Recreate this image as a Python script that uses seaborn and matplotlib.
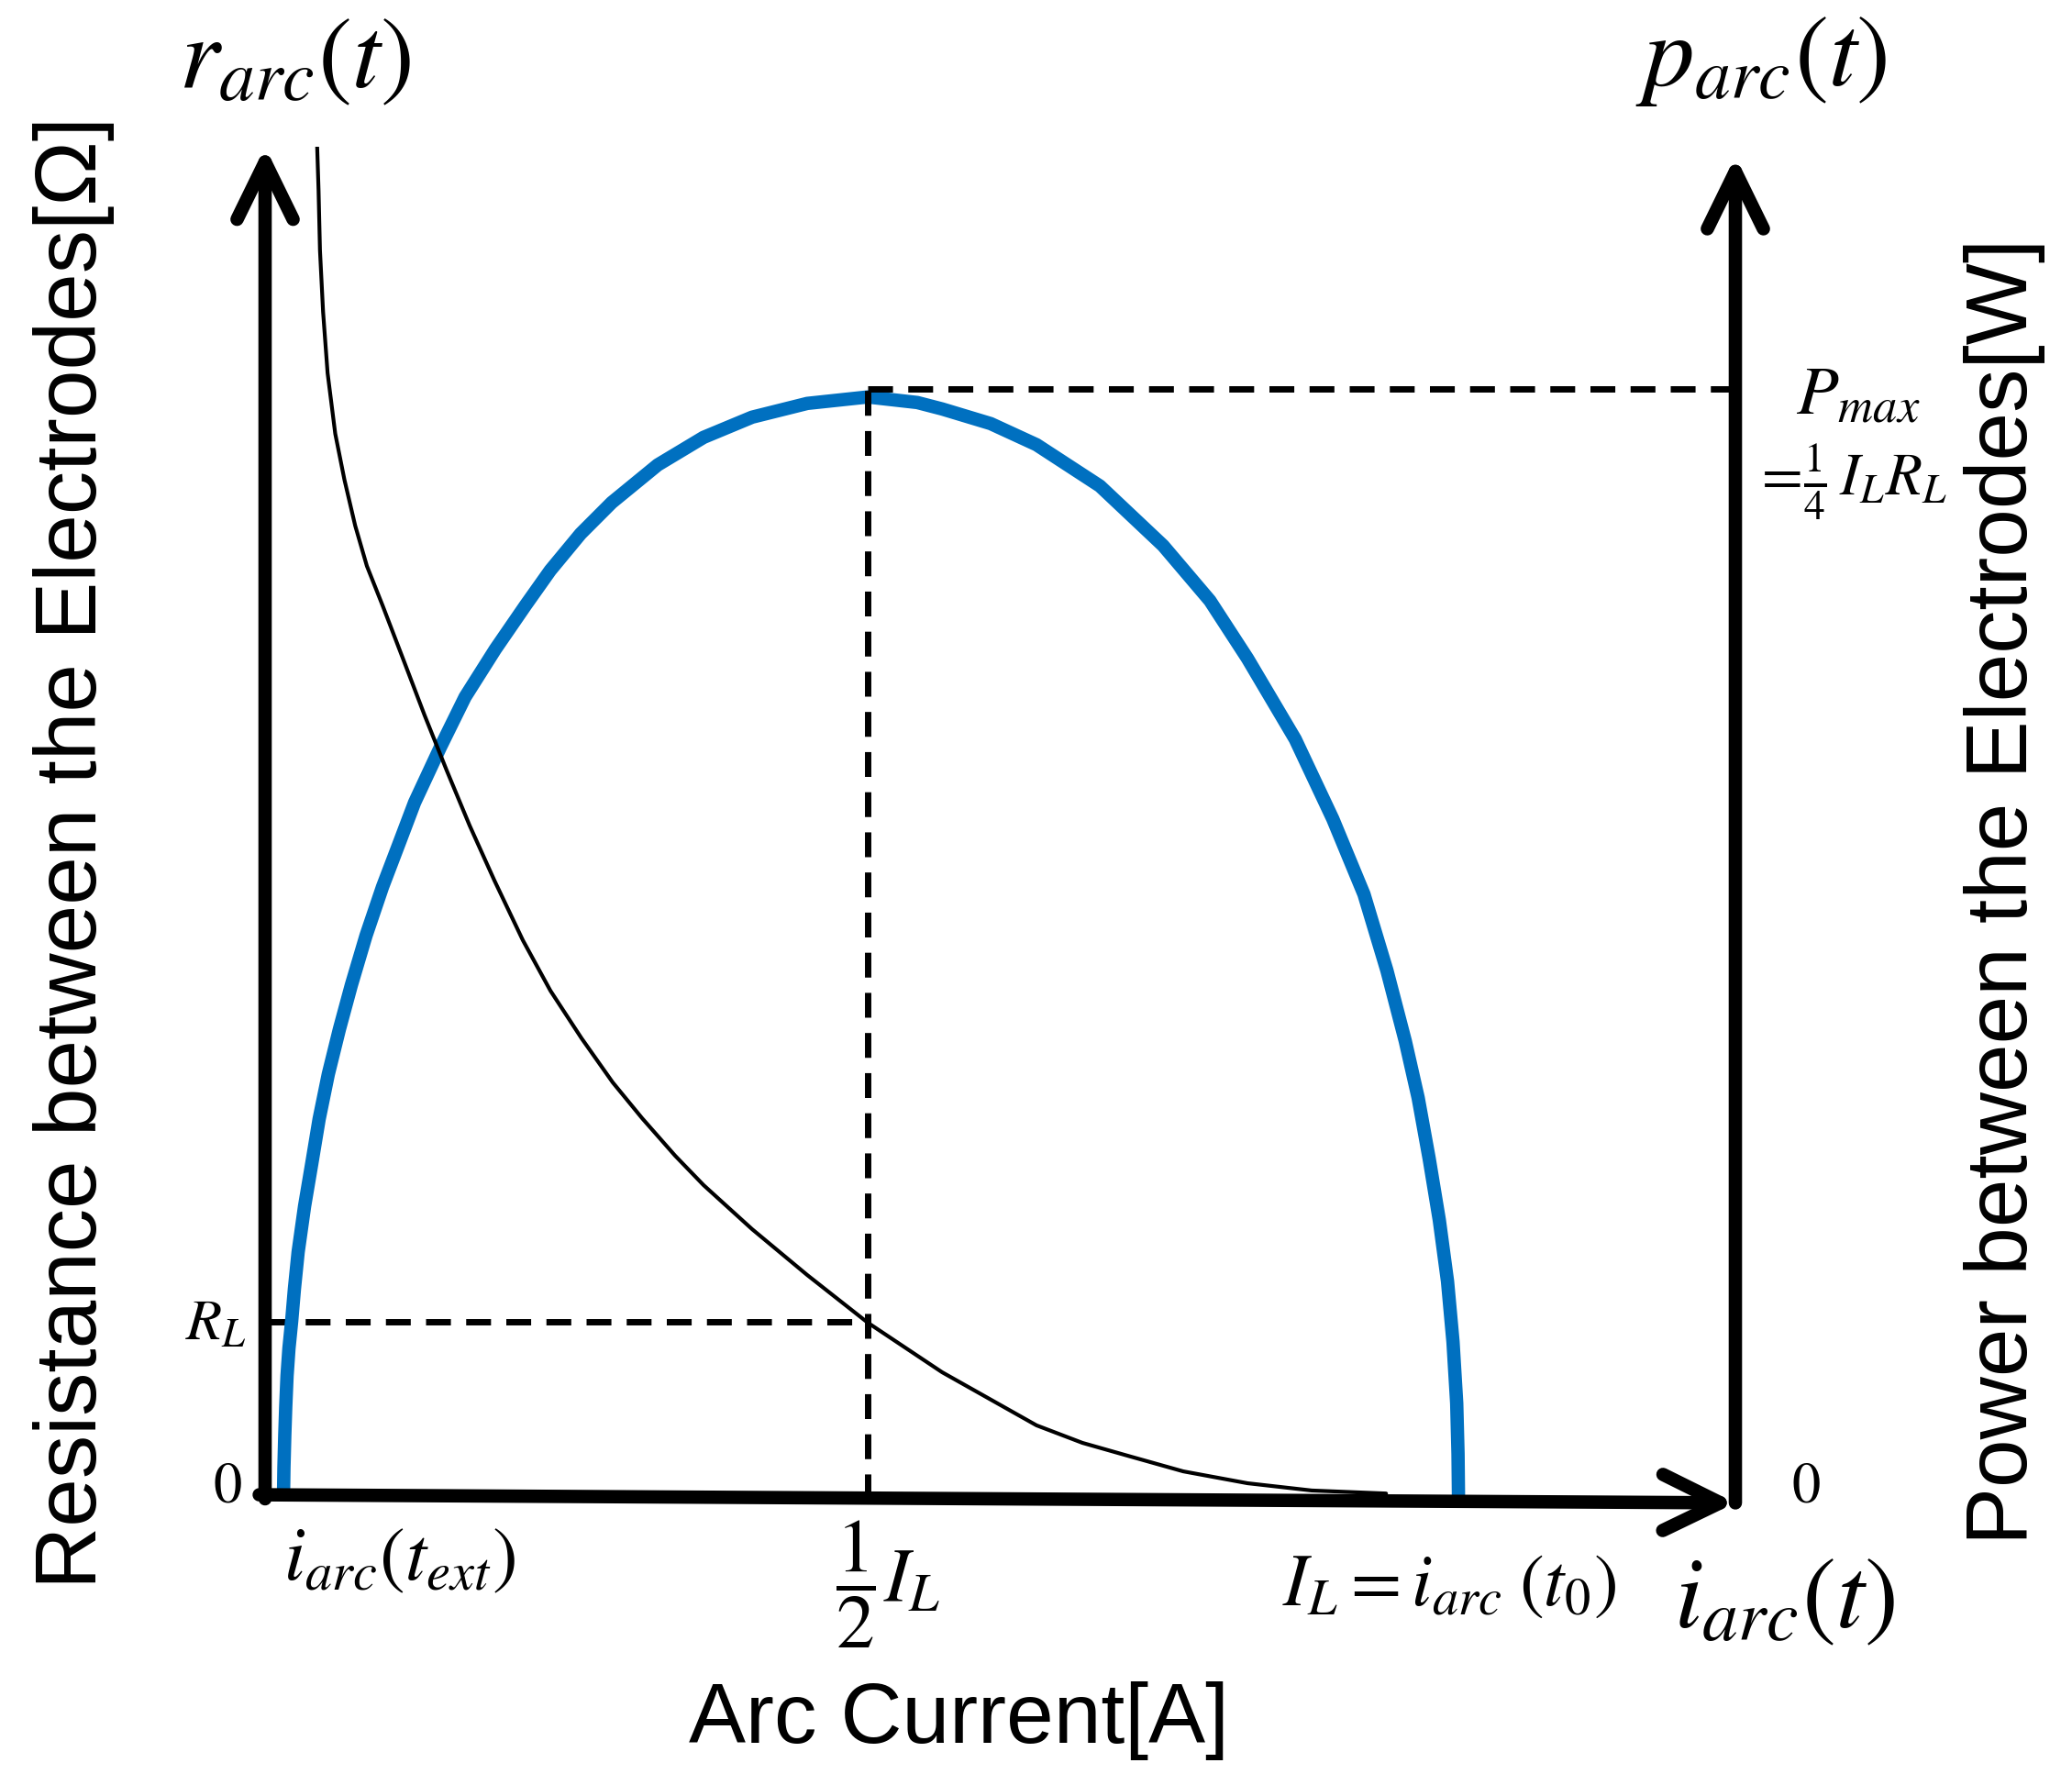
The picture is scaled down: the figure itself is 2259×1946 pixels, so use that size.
import matplotlib
matplotlib.use("Agg")
import matplotlib.pyplot as plt
import seaborn as sns
import pandas as pd

# ---------------- data (I_L = 1, R_L = 1, P_max = 1) ----------------
# blue curve: power between the electrodes vs arc current
power_current = [0.0154, 0.0158, 0.0165, 0.0173, 0.0184, 0.0200, 0.0223, 0.0246, 0.0277,
                 0.0331, 0.0392, 0.0453, 0.0530, 0.0623, 0.0723, 0.0846, 0.0984, 0.1122,
                 0.1253, 0.1468, 0.1676, 0.1929, 0.2183, 0.2390, 0.2644, 0.2905, 0.3290,
                 0.3674, 0.4081, 0.4543, 0.5050, 0.5465, 0.5673, 0.6080, 0.6464, 0.6995,
                 0.7525, 0.7917, 0.8232, 0.8632, 0.8947, 0.9208, 0.9400, 0.9554, 0.9662,
                 0.9754, 0.9839, 0.9908, 0.9954, 0.9985, 0.9996, 1.0000]
power_values = [0.0, 0.0281, 0.0570, 0.0826, 0.1107, 0.1355, 0.1603, 0.1893, 0.2223,
                0.2636, 0.3025, 0.3421, 0.3826, 0.4231, 0.4628, 0.5074, 0.5512, 0.5901,
                0.6273, 0.6769, 0.7223, 0.7653, 0.8050, 0.8364, 0.8694, 0.8975, 0.9314,
                0.9562, 0.9744, 0.9868, 0.9926, 0.9876, 0.9818, 0.9686, 0.9496, 0.9124,
                0.8587, 0.8091, 0.7570, 0.6843, 0.6124, 0.5446, 0.4760, 0.4124, 0.3612,
                0.3066, 0.2512, 0.1959, 0.1413, 0.0860, 0.0405, 0.0]
# black curve: resistance between the electrodes vs arc current
res_current = [0.0434, 0.0448, 0.0460, 0.0486, 0.0524, 0.0588, 0.0665, 0.0755, 0.0853,
               0.0984, 0.1161, 0.1337, 0.1522, 0.1714, 0.1922, 0.2160, 0.2391, 0.2652,
               0.2913, 0.3159, 0.3436, 0.3674, 0.4081, 0.4543, 0.5050, 0.5673, 0.6464,
               0.6849, 0.7256, 0.7694, 0.8232, 0.8770, 0.9393]
res_values = [7.689, 7.394, 7.052, 6.705, 6.358, 6.016, 5.756, 5.497, 5.269,
              5.047, 4.736, 4.425, 4.114, 3.803, 3.492, 3.155, 2.870, 2.601,
              2.352, 2.150, 1.938, 1.772, 1.523, 1.264, 0.995, 0.715, 0.415,
              0.316, 0.238, 0.155, 0.088, 0.047, 0.030]

I_EXT = 0.0154       # i_arc(t_ext)
I_HALF = 0.505       # 1/2 I_L
I_L = 1.0
R_L = 1.0
P_MAX = 1.0

# axis extents (data units)
X_MAX = 1.232
R_MAX = 7.637
P_TOP = 1.218

# ---------------- style ----------------
sns.set_theme(style="white")
plt.rcParams['font.family'] = ['Liberation Sans', 'DejaVu Sans']
plt.rcParams['mathtext.fontset'] = 'stix'
plt.rcParams['text.color'] = 'black'

W, H = 2259, 1946
fig = plt.figure(figsize=(W / 100, H / 100), dpi=100)
fig.patch.set_facecolor('white')

L, R, B, T = 289, 1892, 1634, 160
ax = fig.add_axes([L / W, 1 - B / H, (R - L) / W, (B - T) / H])
ax2 = ax.twinx()
for a in (ax, ax2):
    a.set_facecolor('none')
    for s in a.spines.values():
        s.set_visible(False)
    a.set_xticks([])
    a.set_yticks([])
    a.grid(False)
ax.set_xlim(0, X_MAX)
ax.set_ylim(0, R_MAX)
ax2.set_ylim(0, P_TOP)

BLUE = '#0070C0'
dash_kw = dict(color='black', lw=5, dashes=(3.9, 2.4))

# curves
dfp = pd.DataFrame({'i': power_current, 'p': power_values})
dfr = pd.DataFrame({'i': res_current, 'r': res_values})
sns.lineplot(data=dfp, x='i', y='p', ax=ax2, color=BLUE, lw=10.5, estimator=None,
             sort=False, solid_capstyle='butt', solid_joinstyle='round', zorder=3)
sns.lineplot(data=dfr, x='i', y='r', ax=ax, color='black', lw=3.0,
             estimator=None, sort=False, solid_joinstyle='round', zorder=5)

# dashed guide lines
ax2.plot([0, I_HALF], [R_L * P_TOP / R_MAX] * 2, zorder=2, **dash_kw)
ax2.plot([I_HALF, I_HALF], [0, P_MAX], zorder=4, **dash_kw)
ax2.plot([I_HALF, X_MAX], [P_MAX, P_MAX], zorder=4, **dash_kw)

ax2.set_zorder(ax.get_zorder() - 1)
ax.patch.set_visible(False)
for a in (ax, ax2):
    a.set_xlabel('')
    a.set_ylabel('')

# axis arrows
arrow_kw = dict(arrowstyle='->,head_length=0.45,head_width=0.22', lw=10.5, color='black',
                mutation_scale=100, shrinkA=0, shrinkB=0, capstyle='round', joinstyle='round')
ax.annotate('', xy=(0, 1.0), xytext=(0, -0.0), xycoords='axes fraction',
            arrowprops=arrow_kw, annotation_clip=False)
ax.annotate('', xy=(1.0, 0.993), xytext=(1.0, -0.003), xycoords='axes fraction',
            arrowprops=arrow_kw, annotation_clip=False)
ax.annotate('', xy=(1.0, -0.003), xytext=(-0.004, 0.003), xycoords='axes fraction',
            arrowprops=arrow_kw, annotation_clip=False)


def ptext(x, y, s, **kw):
    fig.text(x / W, 1 - y / H, s, ha=kw.pop('ha', 'center'), va=kw.pop('va', 'center'), **kw)


MS = 80   # big math labels
ptext(322, 66, r'$r_{arc}(t)$', fontsize=MS)
ptext(1920, 66, r'$p_{arc}(t)$', fontsize=MS)
ptext(1946, 1745, r'$i_{arc}(t)$', fontsize=MS)

ptext(248, 1621, r'$0$', fontsize=45)
ptext(235, 1444, r'$R_L$', fontsize=46)
ptext(1969, 1621, r'$0$', fontsize=45)
ptext(2026, 432, r'$P_{max}$', fontsize=54)
ptext(2017, 526, r'$=\!\frac{1}{4}\,I_LR_L$', fontsize=47)
ptext(436, 1700, r'$i_{arc}(t_{ext})$', fontsize=60)
ptext(968, 1727, r'$\dfrac{1}{2}I_L$', fontsize=60)
ptext(1580, 1729, r'$I_L = i_{arc}\;(t_0)$', fontsize=58)

ptext(1045, 1876, 'Arc Current[A]', fontsize=67)
ptext(81, 929, 'Resistance between the Electrodes[Ω]', fontsize=68, rotation=90)
ptext(2186, 972, 'Power between the Electrodes[W]', fontsize=68, rotation=90)

fig.savefig('out.png', dpi=100, facecolor='white')
